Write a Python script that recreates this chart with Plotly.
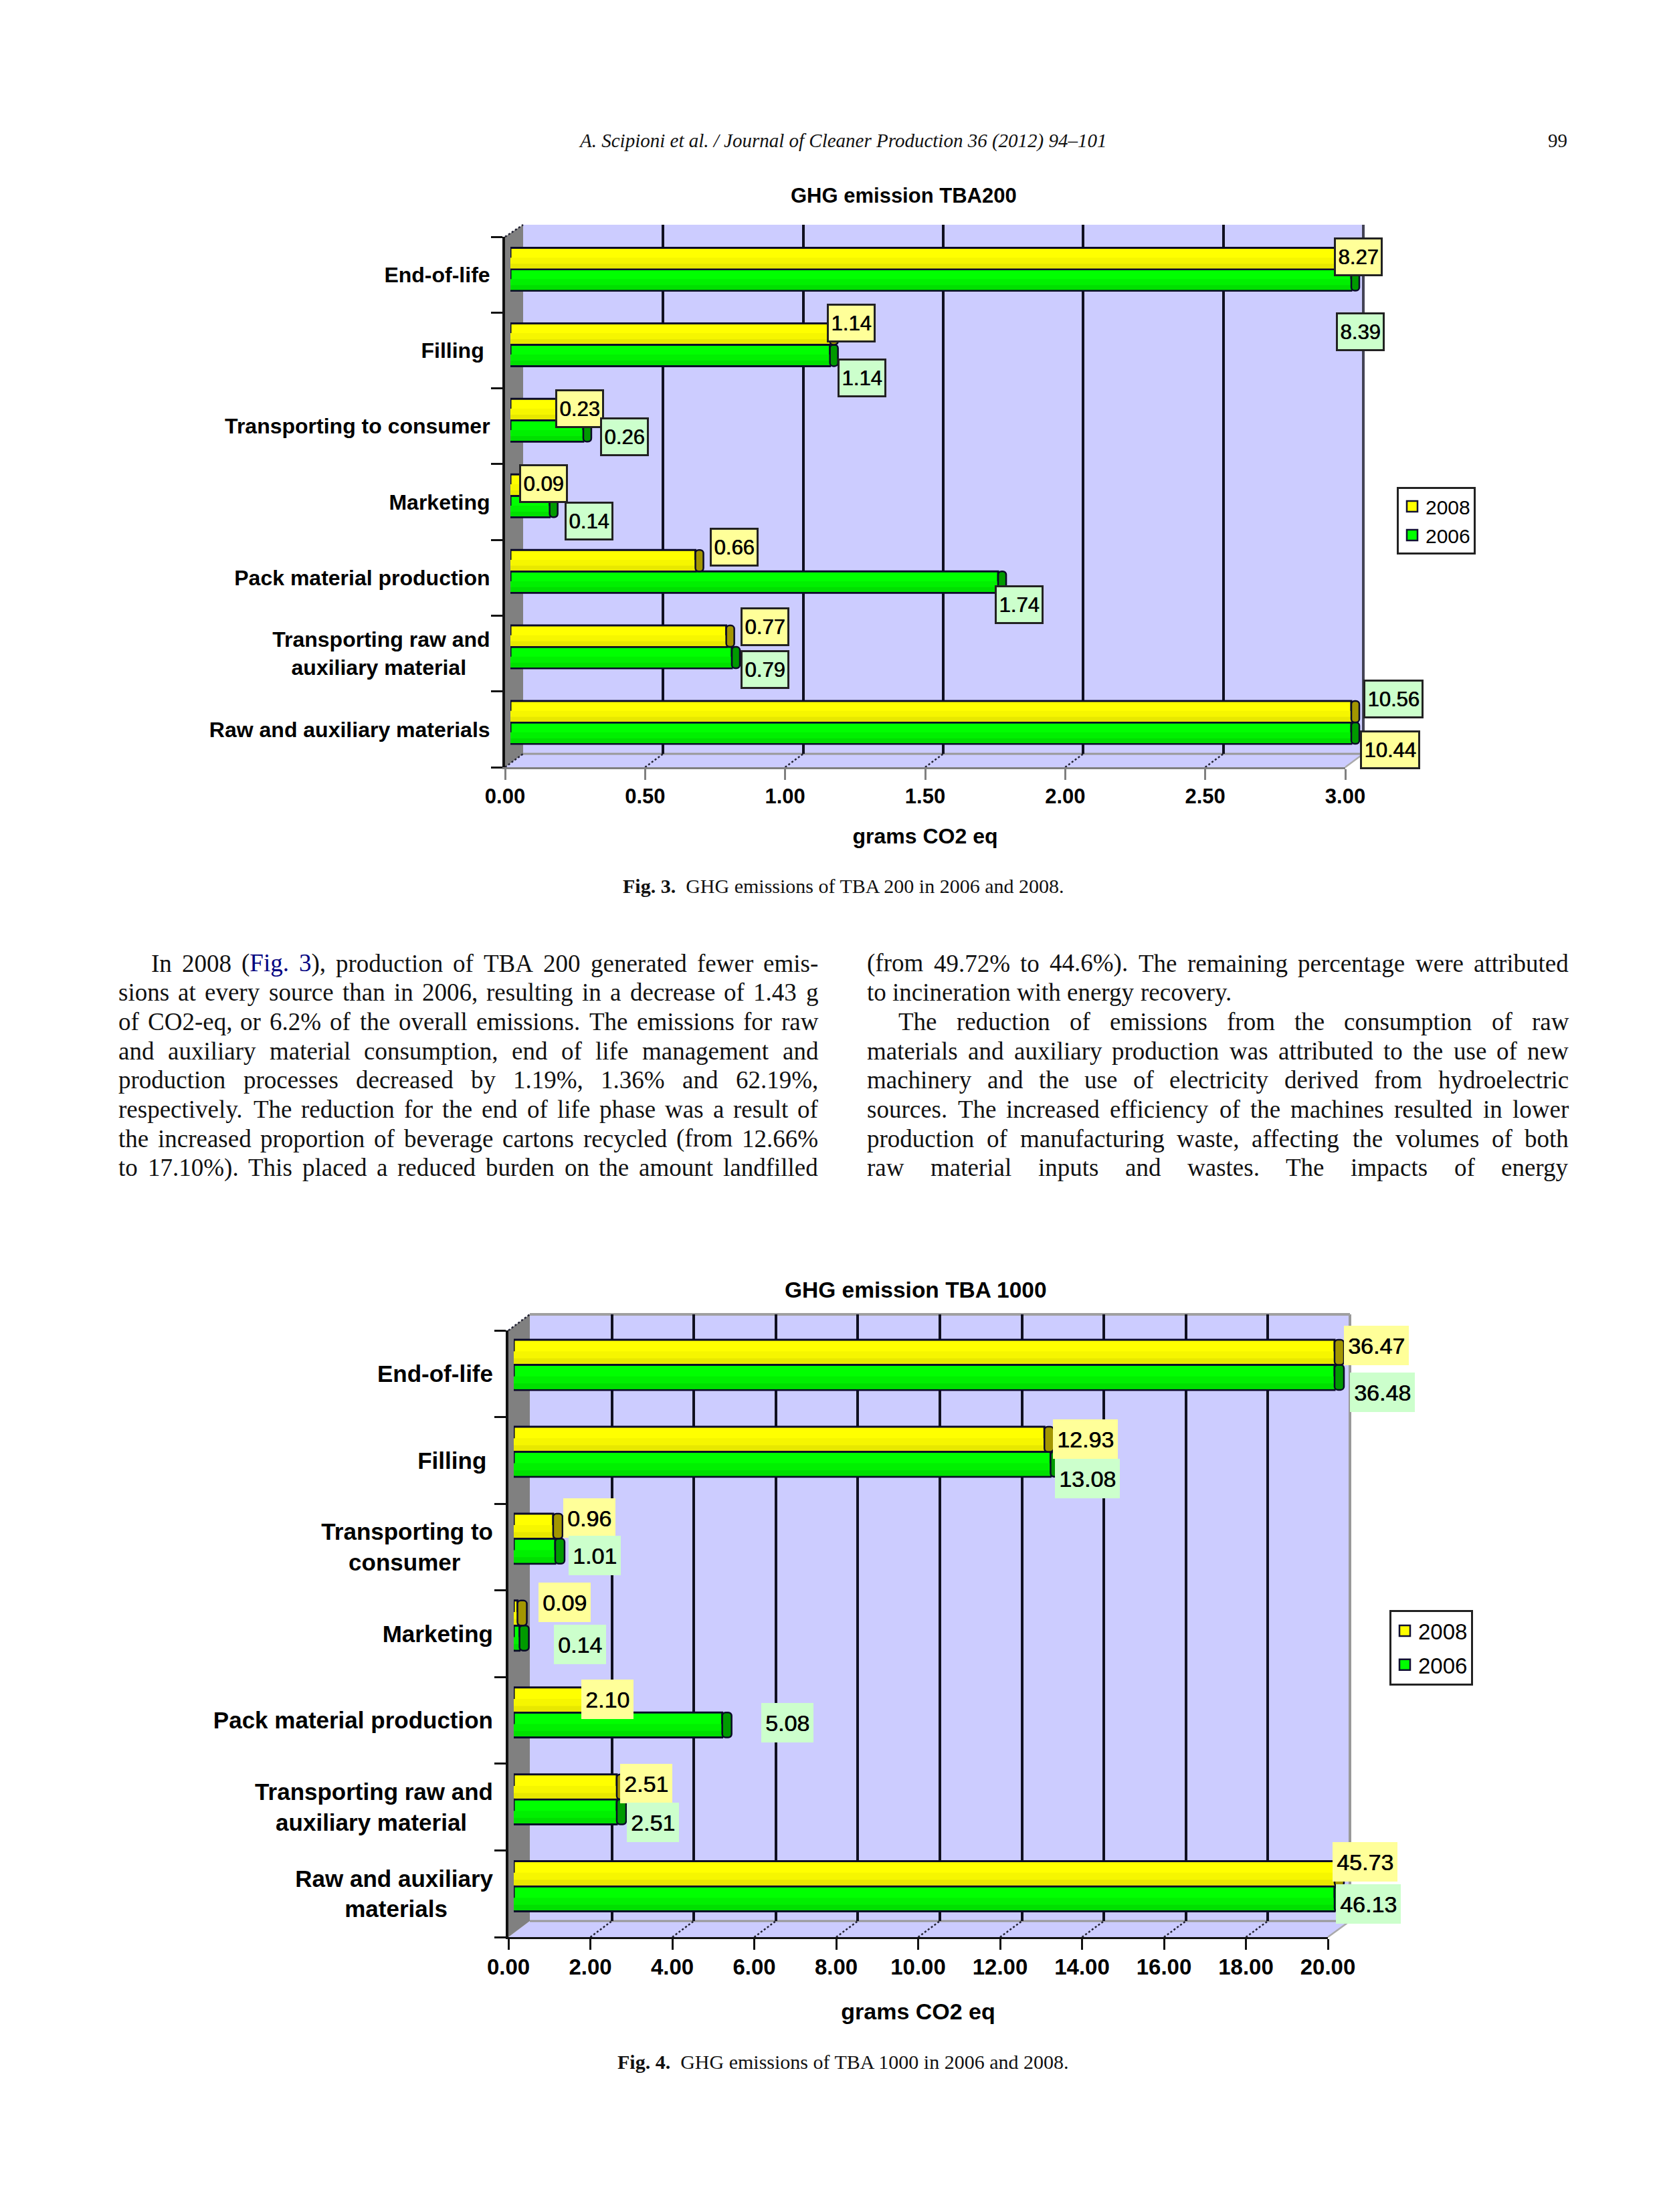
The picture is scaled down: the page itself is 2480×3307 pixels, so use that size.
import plotly.graph_objects as go
import numpy as np

W, H = 2480, 3307
SANS = "Liberation Sans"
SERIF = "Liberation Serif"

# ---------- data ----------
categories = ["End-of-life", "Filling", "Transporting to consumer", "Marketing",
              "Pack material production", "Transporting raw and auxiliary material",
              "Raw and auxiliary materials"]
ticktext_200 = ["End-of-life", "Filling\u00a0", "Transporting to consumer", "Marketing",
                "Pack material production",
                "Transporting raw and<br>auxiliary material" + "\u00a0" * 4,
                "Raw and auxiliary materials"]
ticktext_1000 = ["End-of-life", "Filling\u00a0", "Transporting to<br>consumer" + "\u00a0" * 5, "Marketing",
                 "Pack material production",
                 "Transporting raw and<br>auxiliary material" + "\u00a0" * 4,
                 "Raw and auxiliary<br>materials" + "\u00a0" * 7]
series_names = ["2008", "2006"]
tba200_2008 = [8.27, 1.14, 0.23, 0.09, 0.66, 0.77, 10.44]
tba200_2006 = [8.39, 1.14, 0.26, 0.14, 1.74, 0.79, 10.56]
tba1000_2008 = [36.47, 12.93, 0.96, 0.09, 2.10, 2.51, 45.73]
tba1000_2006 = [36.48, 13.08, 1.01, 0.14, 5.08, 2.51, 46.13]

# label box centres in page pixels, one per value (the source placed them irregularly)
lab200_2008 = [(2030, 384), (1272, 483), (866, 611), (812, 723), (1097, 818), (1143, 937), (2078, 1121)]
lab200_2006 = [(2033, 496), (1288, 565), (933, 653), (880, 779), (1523, 904), (1143, 1001), (2083, 1045)]
lab1000_2008 = [(2057, 2011), (1622, 2151), (881, 2269), (844, 2395), (908, 2540), (966, 2666), (2040, 2783)]
lab1000_2006 = [(2066, 2081), (1625, 2210), (889, 2325), (867, 2458), (1177, 2575), (976, 2724), (2045, 2846)]

col1_lines = [
    "In 2008 (Fig. 3), production of TBA 200 generated fewer emis-",
    "sions at every source than in 2006, resulting in a decrease of 1.43 g",
    "of CO2-eq, or 6.2% of the overall emissions. The emissions for raw",
    "and auxiliary material consumption, end of life management and",
    "production processes decreased by 1.19%, 1.36% and 62.19%,",
    "respectively. The reduction for the end of life phase was a result of",
    "the increased proportion of beverage cartons recycled (from 12.66%",
    "to 17.10%). This placed a reduced burden on the amount landfilled",
]
col2_lines = [
    "(from 49.72% to 44.6%). The remaining percentage were attributed",
    "to incineration with energy recovery.",
    "The reduction of emissions from the consumption of raw",
    "materials and auxiliary production was attributed to the use of new",
    "machinery and the use of electricity derived from hydroelectric",
    "sources. The increased efficiency of the machines resulted in lower",
    "production of manufacturing waste, affecting the volumes of both",
    "raw material inputs and wastes. The impacts of energy",
]

# ---------- helpers ----------
OX, OY = 8, 8   # the page body adds this offset


def px(x):
    return (x - OX) / W


def py(y):
    return 1 - (y - OY) / H


fig = go.Figure()
shapes, annos = [], []


def poly(points, fill, line=None, lw=0, dash=None):
    path = "M " + " L ".join(f"{px(a):.5f},{py(b):.5f}" for a, b in points) + " Z"
    shapes.append(dict(type="path", path=path, xref="paper", yref="paper", layer="below",
                       fillcolor=fill, line=dict(color=line or fill, width=lw, dash=dash)))


def seg(a, b, c, d, color="#111133", lw=2.5, dash=None):
    shapes.append(dict(type="line", x0=px(a), y0=py(b), x1=px(c), y1=py(d), xref="paper", yref="paper",
                       layer="below", line=dict(color=color, width=lw, dash=dash)))


def chart(idx, geo, vals08, vals06, ticktext, dtick, grid_vals, lab08, lab06, title, fs_tick, fs_cat, fs_lab, fs_title,
          box4, box5, boxh, boxborder, xcolor, legend_name, legend_geo, fs_leg, cap_px, standoff, bar_frac, xlab_off):
    a = idx * 3 + 1
    names = [("xaxis" + (str(a + i) if a + i > 1 else ""), "yaxis" + (str(a + i) if a + i > 1 else ""),
              "x" + (str(a + i) if a + i > 1 else ""), "y" + (str(a + i) if a + i > 1 else "")) for i in range(3)]
    xmax = geo["xmax"]

    # wall and floor
    poly([(geo["bx0"], geo["bt"]), (geo["bx1"], geo["bt"]), (geo["bx1"], geo["bb"]),
          (geo["fx1"], geo["fb"]), (geo["fx0"], geo["fb"]), (geo["bx0"], geo["bb"])], "#CCCCFF")
    poly([(geo["fx0"], geo["ft"]), (geo["bx0"], geo["bt"]), (geo["bx0"], geo["bb"]), (geo["fx0"], geo["fb"])], "#808080")
    seg(geo["bx0"], geo["bb"], geo["bx1"], geo["bb"], "#999999", 3)
    seg(geo["bx1"], geo["bb"], geo["fx1"], geo["fb"], "#AAAAAA", 2.5)
    seg(geo["bx1"], geo["bt"], geo["bx1"], geo["bb"], geo["edge"], 4)
    if geo["top"]:
        seg(geo["bx0"], geo["bt"], geo["bx1"], geo["bt"], "#A0A0A0", 4)
    seg(geo["fx0"], geo["ft"], geo["bx0"], geo["bt"], "#222233", 2.5, "dot")
    for v in np.arange(dtick, xmax, dtick) if idx else np.arange(0, xmax, dtick):
        f = geo["fx0"] + (geo["fx1"] - geo["fx0"]) * v / xmax
        b = geo["bx0"] + (geo["bx1"] - geo["bx0"]) * v / xmax
        seg(f, geo["fb"], b, geo["bb"], "#222233", 2.5, "dot")

    # back plane: grid lines + legend entries
    xa, ya, xr, yr = names[0]
    fig.update_layout({
        xa: dict(domain=[px(geo["bx0"]), px(geo["bx1"])], range=[0, xmax], anchor=yr, tickvals=grid_vals,
                 showticklabels=False, ticks="", showgrid=True, gridcolor="#101020", gridwidth=3.5, automargin=False,
                 zeroline=False, showline=False, fixedrange=True),
        ya: dict(domain=[py(geo["bb"]), py(geo["bt"])], range=[0, 1], anchor=xr, showticklabels=False, automargin=False,
                 ticks="", showgrid=False, zeroline=False, showline=False, fixedrange=True),
    })
    for nm, col in zip(series_names, ["#FFFF00", "#00FF00"]):
        fig.add_trace(go.Scatter(x=[None], y=[None], mode="markers", name=nm, xaxis=xr, yaxis=yr,
                                 legend=legend_name, legendgroup=legend_name + nm, showlegend=True,
                                 marker=dict(symbol="square", size=16, color=col,
                                             line=dict(color="#111133", width=2.5))))

    # bar plane
    xa, ya, xr, yr = names[1]
    ppu = (geo["barx1"] - geo["barx0"]) / xmax
    upper = (geo["barend"] - geo["barx0"]) / ppu
    fig.update_layout({
        xa: dict(domain=[px(geo["barx0"]), px(geo["barend"])], range=[0, upper], anchor=yr, visible=False,
                 fixedrange=True, automargin=False),
        ya: dict(domain=[py(geo["barb"]), py(geo["bart"])], type="category", categoryorder="array", automargin=False,
                 categoryarray=categories, range=[6.5, -0.5], anchor=xr, visible=False, fixedrange=True),
    })
    w = bar_frac
    caph = cap_px / ppu
    sets = [(vals08, -w, ["#FFFF00", "#F6F600", "#E8E800"], "#A39600"),
            (vals06, 0.0, ["#00FF00", "#00F000", "#00DF00"], "#009A00")]
    for vals, off, cols, capc in sets[::-1]:
        shown = np.minimum(vals, xmax)
        fig.add_trace(go.Bar(y=categories, x=shown, orientation="h", xaxis=xr, yaxis=yr, width=w, offset=off,
                             showlegend=False, hoverinfo="skip", marker=dict(color=cols[0], line=dict(color="#0A0A28", width=3))))
        fig.add_trace(go.Bar(y=categories, x=shown, orientation="h", xaxis=xr, yaxis=yr, width=w * 0.5,
                             offset=off + w * 0.46, showlegend=False, hoverinfo="skip",
                             marker=dict(color=cols[1], line=dict(width=0))))
        fig.add_trace(go.Bar(y=categories, x=shown, orientation="h", xaxis=xr, yaxis=yr, width=w * 0.22,
                             offset=off + w * 0.74, showlegend=False, hoverinfo="skip",
                             marker=dict(color=cols[2], line=dict(width=0))))
        fig.add_trace(go.Bar(y=categories, x=[caph] * len(vals), base=shown, orientation="h", xaxis=xr, yaxis=yr,
                             width=w, offset=off, showlegend=False, hoverinfo="skip",
                             marker=dict(color=capc, cornerradius=5, line=dict(color="#0A0A28", width=2.5))))

    # front plane: real axes, ticks and category labels
    xa, ya, xr, yr = names[2]
    fig.update_layout({
        xa: dict(domain=[px(geo["fx0"]), px(geo["fx1"])], range=[0, xmax], anchor=yr, dtick=dtick, tick0=0,
                 tickformat=".2f", ticks="outside", ticklen=16, tickwidth=3, tickcolor=xcolor, showgrid=False,
                 showline=True, linecolor=xcolor, linewidth=3, zeroline=False, fixedrange=True, automargin=False,
                 ticklabelstandoff=xlab_off,
                 tickfont=dict(family=SANS, size=fs_tick, color="#000", weight="bold"),
                 title=dict(text="grams CO2 eq", standoff=standoff,
                            font=dict(family=SANS, size=fs_tick + 1, color="#000", weight="bold"))),
        ya: dict(domain=[py(geo["fb"]), py(geo["ft"])], type="category", categoryorder="array", automargin=False,
                 categoryarray=categories, range=[6.5, -0.5], anchor=xr, tickvals=categories, ticktext=ticktext,
                 ticks="outside", tickson="boundaries", ticklen=17, tickwidth=3, tickcolor="#111",
                 ticklabelstandoff=12,
                 showgrid=False, showline=True, linecolor="#111", linewidth=4, zeroline=False, fixedrange=True,
                 tickfont=dict(family=SANS, size=fs_cat, color="#000", weight="bold")),
    })
    fig.add_trace(go.Scatter(x=[None], y=[categories[0]], xaxis=xr, yaxis=yr, showlegend=False, hoverinfo="skip"))

    # value labels
    for vals, labs, bg in [(vals08, lab08, "#FFFF99"), (vals06, lab06, "#CCFFCC")]:
        for v, (cx, cy) in zip(vals, labs):
            t = f"{v:.2f}"
            bw = box5 if len(t) > 4 else box4
            annos.append(dict(x=px(cx), y=py(cy), xref="paper", yref="paper", text=t, showarrow=False,
                              xanchor="center", yanchor="middle", align="center", valign="middle",
                              width=bw - 2 * boxborder, height=boxh - 2 * boxborder, bgcolor=bg, borderpad=0,
                              borderwidth=boxborder, bordercolor="#222222" if boxborder else bg,
                              font=dict(family=SANS, size=fs_lab, color="#000", shadow="0.7px 0 0 #000")))
    annos.append(dict(x=px(title[1]), y=py(title[2]), xref="paper", yref="paper", text=title[0], showarrow=False,
                      xanchor="center", yanchor="middle",
                      font=dict(family=SANS, size=fs_title, color="#000", weight="bold")))
    fig.update_layout({legend_name: dict(x=px(legend_geo["x"]), y=py(legend_geo["y"]),
                                         xanchor="left", yanchor="top",
                                         bgcolor="#FFFFFF", bordercolor="#222222", borderwidth=3,
                                         font=dict(family=SANS, size=fs_leg, color="#000"), itemsizing="trace",
                                         traceorder="grouped", tracegroupgap=legend_geo["gap"], itemclick=False,
                                         itemdoubleclick=False)})


chart(0, dict(xmax=3.0, fx0=755, fx1=2011, ft=354, fb=1147, bx0=782, bx1=2038, bt=336, bb=1127,
              barx0=763, barx1=2020, barend=2060, bart=346, barb=1136.5, edge="#444455", top=False),
      tba200_2008, tba200_2006, ticktext_200, 0.5, [0, 0.5, 1, 1.5, 2, 2.5],
      lab200_2008, lab200_2006, ("GHG emission TBA200", 1351, 292), 31, 32, 31, 31, 73, 90, 58, 3, "#808080",
      "legend", dict(x=2088, y=728, gap=1), 30, 12, 32, 0.2834, -2)

chart(1, dict(xmax=20.0, fx0=760, fx1=1985, ft=1989, fb=2896, bx0=792, bx1=2018, bt=1965, bb=2872,
              barx0=768, barx1=1995, barend=2040, bart=1975.5, barb=2885, edge="#999999", top=True),
      tba1000_2008, tba1000_2006, ticktext_1000, 2, [2, 4, 6, 8, 10, 12, 14, 16, 18],
      lab1000_2008, lab1000_2006, ("GHG emission TBA 1000", 1369, 1929), 33, 35, 34, 33.5, 78, 97, 59, 0, "#111111",
      "legend2", dict(x=2077, y=2407, gap=5), 33, 14, 38, 0.288, -3)


# ---------- page text ----------
def page(text, x, y, size, anchor="center", style=None, weight=None, color="#111"):
    annos.append(dict(x=px(x), y=py(y), xref="paper", yref="paper", text=text, showarrow=False, xanchor=anchor,
                      yanchor="middle", font=dict(family=SERIF, size=size, color=color, style=style or "normal",
                                                  weight=weight or "normal")))


page("A. Scipioni et al. / Journal of Cleaner Production 36 (2012) 94\u2013101", 1259, 210, 29, style="italic")
page("99", 2345, 210, 29, anchor="right")
page("<b>Fig. 3.</b>  GHG emissions of TBA 200 in 2006 and 2008.", 1260, 1324, 30)
page("<b>Fig. 4.</b>  GHG emissions of TBA 1000 in 2006 and 2008.", 1260, 3082, 30)

CHAR_W = {}
for chars, wd in [("aceqz", 0.444), ("bdghknopuvxy0123456789", 0.5), ("fr()-", 0.333), ("ijlt", 0.278), ("s", 0.389),
                  ("m", 0.778), ("w", 0.722), (".,", 0.25), ("%", 0.833), ("ADGHKNOQUVXY", 0.722), ("BCR", 0.667),
                  ("ELTZ", 0.611), ("FPS", 0.556), ("I", 0.333), ("J", 0.389), ("M", 0.889), ("W", 0.944)]:
    for c in chars:
        CHAR_W[c] = wd


def word_w(s, size):
    return sum(CHAR_W.get(c, 0.5) for c in s) * size


BODY = 37
LINE0, LINESTEP = 1440, 43.7
BLUE = {"(Fig.": "(<span style='color:#000080'>Fig.</span>", "3),": "<span style='color:#000080'>3</span>),"}


def column(lines, x0, x1, indents, natural):
    for i, ln in enumerate(lines):
        words = ln.split(" ")
        y = LINE0 + i * LINESTEP
        left = x0 + indents.get(i, 0)
        widths = [word_w(w, BODY) for w in words]
        if i in natural:
            gap = 0.25 * BODY
        else:
            gap = (x1 - left - sum(widths)) / max(len(words) - 1, 1)
        pos = left
        for wd, wi in zip(words, widths):
            page(BLUE.get(wd, wd), pos, y, BODY, anchor="left")
            pos += wi + gap


column(col1_lines, 175, 1221, {0: 49}, {})
column(col2_lines, 1294, 2343, {2: 47}, {1})

fig.update_layout(width=W, height=H, autosize=False, margin=dict(l=0, r=0, t=0, b=0, pad=0),
                  paper_bgcolor="#FFFFFF", plot_bgcolor="rgba(0,0,0,0)", barmode="overlay",
                  shapes=shapes, annotations=annos, hovermode=False)
fig.write_html("out.html")
